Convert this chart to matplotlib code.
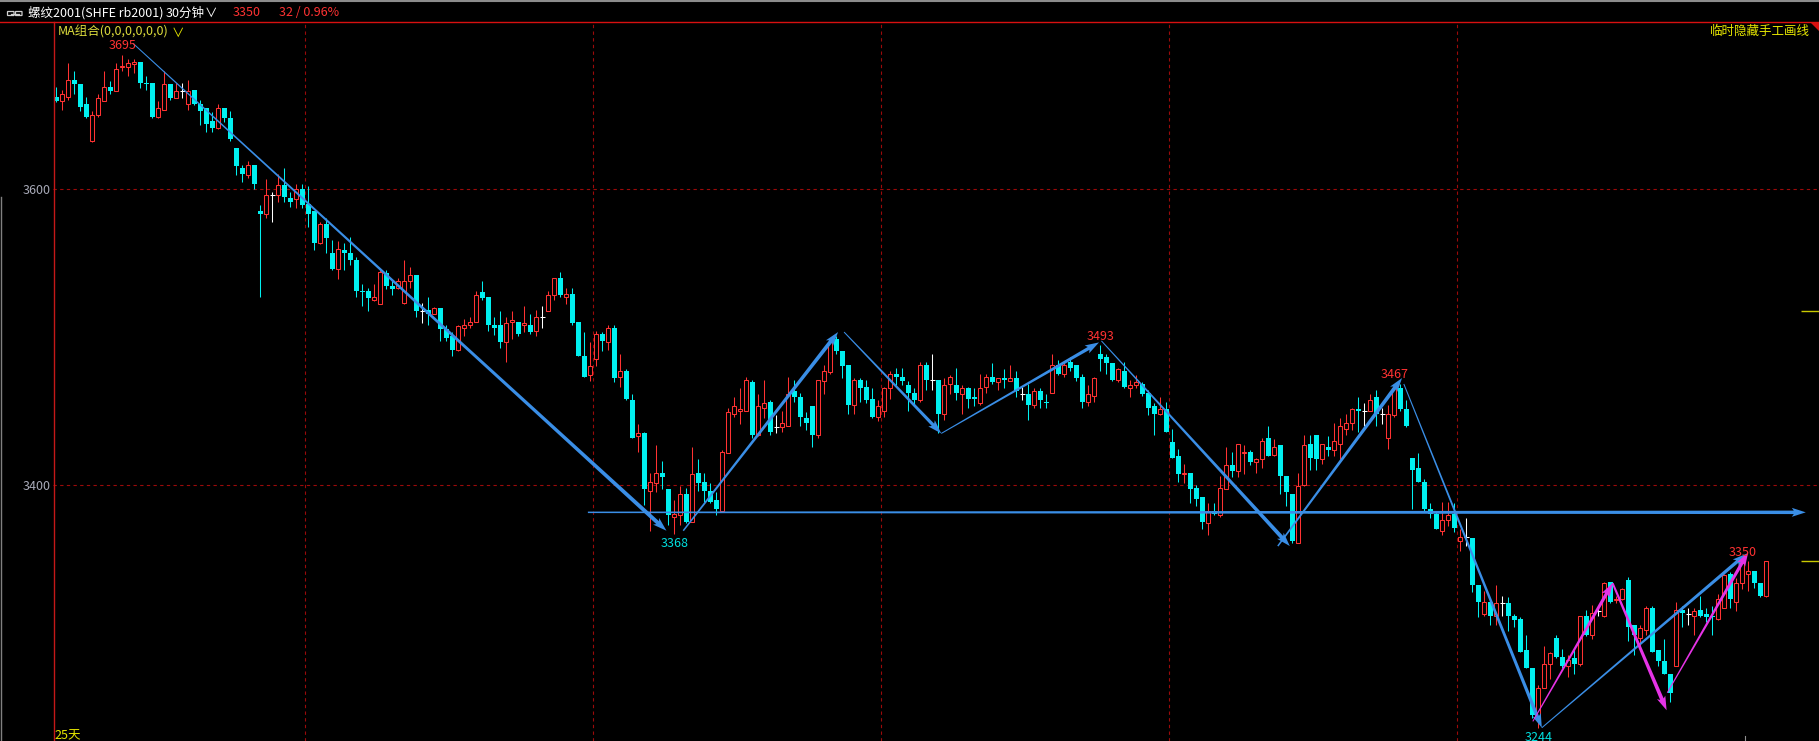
import numpy as np
import matplotlib
matplotlib.use("Agg")
import matplotlib.pyplot as plt
from matplotlib.patches import Polygon, FancyBboxPatch
from matplotlib.lines import Line2D
from matplotlib.ticker import NullLocator

plt.rcParams['font.family'] = ['Noto Sans CJK SC', 'DejaVu Sans']

# rb2001 30分钟 K线
opens = [3665,3662,3665,3677,3674,3660,3634,3652,3662,3672,
         3669,3686,3686,3688,3690,3675,3675,3651,3656,3674,
         3664,3669,3660,3670,3660,3657,3648,3643,3657,3650,
         3629,3615,3610,3617,3585,3583,3596,3596,3603,3594,
         3593,3600,3590,3585,3563,3576,3556,3545,3558,3556,
         3551,3530,3530,3524,3521,3542,3533,3532,3522,3537,
         3541,3516,3517,3514,3518,3504,3499,3490,3505,3507,
         3509,3529,3526,3507,3507,3495,3509,3509,3507,3507,
         3503,3512,3516,3527,3539,3526,3528,3509,3486,3473,
         3484,3501,3495,3505,3472,3476,3456,3432,3434,3396,
         3401,3408,3397,3379,3380,3394,3376,3408,3402,3396,
         3390,3383,3421,3447,3449,3449,3468,3433,3451,3455,
         3438,3438,3439,3462,3458,3444,3452,3433,3469,3475,
         3497,3489,3480,3453,3470,3465,3457,3445,3449,3464,
         3474,3472,3466,3461,3456,3480,3470,3470,3447,3467,
         3466,3460,3464,3458,3454,3465,3472,3468,3471,3469,
         3471,3460,3460,3453,3462,3455,3461,3480,3474,3482,
         3480,3472,3455,3459,3487,3485,3481,3470,3476,3464,
         3466,3467,3461,3452,3447,3450,3428,3419,3407,3408,
         3398,3392,3375,3383,3380,3397,3413,3409,3421,3422,
         3415,3417,3431,3420,3426,3406,3394,3362,3400,3427,
         3433,3417,3425,3423,3427,3437,3441,3450,3449,3449,
         3458,3447,3431,3446,3464,3450,3418,3411,3402,3384,
         3381,3370,3377,3381,3363,3366,3365,3335,3316,3324,
         3315,3323,3323,3315,3313,3293,3282,3251,3269,3284,
         3301,3289,3283,3288,3284,3315,3303,3318,3315,3337,
         3325,3326,3338,3309,3301,3306,3320,3293,3286,3278,
         3283,3319,3316,3315,3319,3316,3315,3313,3320,3342,
         3324,3336,3342,3344,3336,3328]
highs = [3672,3670,3689,3683,3674,3665,3655,3667,3683,3676,
         3689,3695,3692,3692,3690,3680,3675,3662,3683,3674,
         3675,3675,3677,3670,3663,3657,3654,3660,3657,3655,
         3629,3617,3620,3617,3589,3607,3598,3611,3615,3598,
         3604,3604,3602,3585,3577,3580,3565,3564,3563,3567,
         3553,3535,3532,3535,3544,3544,3537,3539,3551,3546,
         3541,3522,3526,3519,3518,3507,3502,3507,3511,3512,
         3530,3537,3526,3512,3516,3512,3516,3509,3520,3514,
         3517,3520,3530,3539,3543,3532,3532,3509,3502,3495,
         3503,3502,3507,3507,3487,3477,3460,3440,3435,3408,
         3426,3416,3397,3390,3399,3398,3425,3417,3408,3401,
         3395,3423,3451,3458,3464,3472,3470,3460,3470,3456,
         3446,3449,3472,3470,3461,3448,3452,3470,3480,3498,
         3499,3489,3480,3471,3471,3470,3464,3456,3465,3476,
         3478,3478,3469,3464,3482,3482,3487,3470,3471,3473,
         3478,3466,3465,3464,3474,3474,3481,3471,3477,3480,
         3476,3465,3467,3464,3464,3460,3487,3483,3482,3485,
         3480,3474,3466,3472,3493,3487,3481,3478,3482,3470,
         3473,3468,3463,3454,3458,3455,3437,3424,3414,3408,
         3400,3392,3388,3388,3406,3425,3422,3427,3426,3423,
         3418,3431,3439,3430,3426,3406,3394,3408,3433,3433,
         3433,3427,3432,3441,3444,3447,3451,3458,3454,3460,
         3463,3451,3453,3467,3467,3456,3418,3421,3404,3388,
         3382,3389,3389,3388,3371,3378,3365,3335,3331,3326,
         3335,3328,3327,3316,3314,3303,3282,3271,3296,3292,
         3303,3294,3290,3293,3315,3319,3322,3320,3337,3337,
         3328,3333,3340,3309,3309,3321,3321,3293,3300,3278,
         3324,3321,3320,3320,3328,3320,3321,3329,3342,3343,
         3339,3350,3350,3344,3336,3350]
lows = [3661,3656,3663,3667,3655,3650,3633,3651,3662,3667,
        3669,3683,3680,3682,3671,3670,3650,3650,3656,3663,
        3664,3664,3656,3659,3645,3640,3640,3642,3647,3634,
        3610,3605,3608,3600,3526,3580,3577,3591,3591,3588,
        3587,3587,3574,3558,3562,3556,3544,3538,3544,3548,
        3526,3520,3516,3523,3521,3531,3527,3531,3521,3532,
        3512,3508,3507,3514,3496,3496,3486,3489,3499,3505,
        3509,3524,3503,3500,3491,3482,3497,3499,3502,3501,
        3499,3505,3516,3524,3526,3521,3507,3486,3472,3469,
        3479,3489,3490,3468,3465,3456,3431,3422,3387,3370,
        3395,3397,3374,3368,3374,3375,3376,3396,3389,3388,
        3380,3383,3421,3445,3440,3449,3431,3432,3444,3433,
        3434,3435,3439,3455,3439,3436,3425,3431,3460,3474,
        3487,3471,3447,3447,3455,3454,3444,3442,3445,3457,
        3466,3466,3449,3452,3455,3463,3463,3434,3443,3460,
        3456,3447,3451,3452,3453,3461,3467,3463,3464,3469,
        3458,3456,3443,3451,3451,3451,3461,3473,3472,3476,
        3469,3451,3452,3455,3476,3474,3469,3468,3464,3458,
        3464,3459,3446,3433,3446,3435,3418,3402,3401,3388,
        3386,3371,3367,3380,3379,3397,3405,3405,3407,3413,
        3408,3411,3419,3419,3394,3386,3362,3362,3399,3410,
        3410,3414,3419,3419,3417,3433,3436,3435,3439,3449,
        3439,3440,3424,3445,3449,3438,3384,3402,3382,3378,
        3371,3367,3373,3369,3357,3360,3330,3314,3315,3309,
        3309,3315,3305,3308,3292,3282,3250,3244,3269,3275,
        3288,3282,3276,3278,3283,3302,3300,3315,3314,3323,
        3323,3325,3299,3290,3296,3303,3292,3283,3278,3260,
        3283,3308,3309,3303,3314,3311,3303,3312,3320,3320,
        3318,3332,3331,3333,3327,3327]
closes = [3662,3667,3677,3674,3658,3651,3652,3664,3672,3669,
          3685,3687,3689,3690,3675,3674,3651,3657,3674,3664,
          3669,3669,3669,3660,3655,3646,3643,3657,3650,3635,
          3616,3611,3617,3604,3583,3596,3596,3603,3595,3591,
          3600,3589,3583,3563,3576,3566,3545,3559,3556,3551,
          3530,3529,3525,3526,3543,3533,3531,3537,3537,3541,
          3516,3516,3514,3518,3504,3498,3490,3506,3507,3509,
          3527,3525,3507,3505,3495,3508,3510,3501,3508,3502,
          3512,3512,3527,3539,3527,3528,3508,3486,3472,3479,
          3501,3496,3505,3471,3476,3457,3431,3434,3397,3402,
          3408,3405,3380,3381,3394,3376,3407,3401,3396,3389,
          3384,3422,3448,3452,3450,3470,3433,3452,3454,3435,
          3438,3441,3460,3458,3445,3441,3433,3470,3476,3495,
          3489,3479,3453,3470,3464,3456,3445,3452,3464,3474,
          3472,3469,3461,3456,3480,3470,3470,3447,3466,3472,
          3461,3464,3457,3457,3464,3472,3468,3471,3470,3471,
          3462,3460,3453,3462,3456,3454,3480,3474,3480,3478,
          3471,3455,3460,3471,3484,3481,3470,3477,3465,3466,
          3468,3460,3451,3447,3450,3435,3418,3407,3408,3397,
          3391,3376,3383,3381,3398,3413,3409,3427,3422,3415,
          3417,3429,3419,3425,3406,3395,3363,3399,3426,3418,
          3417,3427,3423,3429,3439,3441,3450,3449,3449,3456,
          3447,3447,3447,3464,3450,3439,3410,3402,3384,3381,
          3371,3377,3380,3372,3366,3366,3335,3324,3324,3315,
          3323,3323,3315,3312,3292,3282,3252,3269,3284,3291,
          3289,3283,3287,3284,3315,3303,3317,3318,3336,3324,
          3326,3332,3308,3303,3307,3320,3292,3286,3278,3266,
          3319,3317,3316,3318,3315,3314,3314,3326,3341,3326,
          3336,3349,3344,3336,3328,3350]

day_breaks = [42, 90, 138, 186, 234]   # first bar of each block, dashed separators
last_break = 282                       # only a small tick at the bottom
price_ticks = [3400, 3600]
right_marks = [3516, 3350]

# labelled extremes: (bar, price, kind)
extremes = [(11, 3695, 'hi'), (103, 3368, 'lo'), (174, 3493, 'hi'),
            (223, 3467, 'hi'), (281, 3350, 'hi'), (247, 3244, 'lo')]

# hand drawn arrows: (bar0, price0, bar1, price1)
blue_lines = [(12.8, 3703, 101.7, 3370),
              (104.5, 3370, 130.3, 3502),
              (131.3, 3502, 147.5, 3434),
              (147.5, 3434, 173.8, 3495),
              (174.2, 3496, 205.6, 3360),
              (203.6, 3360, 224.3, 3471),
              (224.6, 3467, 247.6, 3244),
              (247.6, 3244, 281.7, 3355),
              (88.6, 3382, 291.6, 3382)]
blue_widths = [(1, 4), (1.5, 4), (1, 3.5), (1, 3.5), (1, 4), (1.5, 4), (1, 3.5), (1, 3.5), (1.5, 3.5)]
pink_lines = [(246.1, 3248, 259.4, 3336),
              (259.4, 3336, 268.4, 3255),
              (268.5, 3266, 282.0, 3356)]
pink_widths = [(1, 3.5), (2, 4), (1, 3.5)]

assert len(opens) == len(highs) == len(lows) == len(closes)

RED = '#ff3232'
CYAN = '#00f0f0'
BLUE = '#3a8ee6'
PINK = '#e633e6'
GRID = '#9b0a0a'
YEL = '#e6e600'

W, H = 1819, 741
fig = plt.figure(figsize=(W / 100, H / 100), dpi=100, facecolor='black')
ax = fig.add_axes([53 / W, 0, 1 - 53 / W, 1 - 22 / H], facecolor='black')
ax.set_yscale('log')
ax.set_xlim(-0.55, 293.8)
ax.set_ylim(3235.7, 3718.4)
for s in ax.spines.values():
    s.set_visible(False)
ax.set_xticks([])
ax.yaxis.set_minor_locator(NullLocator())
ax.set_yticks(price_ticks)
ax.set_yticklabels([str(p) for p in price_ticks])
ax.tick_params(axis='y', length=0, pad=2, labelsize=9, labelcolor='#a8aab8')

# grid
for p in price_ticks:
    ax.axhline(p, color=GRID, lw=0.8, ls=(0, (3, 3)), zorder=1)
for b in day_breaks:
    ax.axvline(b - 0.5, color=GRID, lw=0.8, ls=(0, (3, 3)), zorder=1)
ax.plot([last_break - 0.5] * 2, [3235.7, 3239], color='#909090', lw=0.8)

# candles
o = np.array(opens, float)
h = np.array(highs, float)
l = np.array(lows, float)
c = np.array(closes, float)
x = np.arange(len(o))
up = c > o
dn = c < o
fl = c == o
ax.vlines(x[up], l[up], h[up], color=RED, lw=0.75, zorder=2)
ax.vlines(x[dn], l[dn], h[dn], color=CYAN, lw=0.75, zorder=2)
ax.vlines(x[fl], l[fl], h[fl], color='white', lw=0.75, zorder=2)
ax.bar(x[up], c[up] - o[up], bottom=o[up], width=0.7, facecolor='black',
       edgecolor=RED, linewidth=0.75, zorder=3)
ax.bar(x[dn], o[dn] - c[dn], bottom=c[dn], width=0.8, color=CYAN, linewidth=0, zorder=3)
ax.hlines(c[fl], x[fl] - 0.4, x[fl] + 0.4, color='white', lw=0.75, zorder=3)

# extreme labels
for i, p, kind in extremes:
    if kind == 'hi':
        ax.annotate(str(p), (i, p), xytext=(0, 2), textcoords='offset points',
                    ha='center', va='bottom', color=RED, fontsize=9, zorder=6)
    else:
        ax.annotate(str(p), (i, p), xytext=(0, -2), textcoords='offset points',
                    ha='center', va='top', color='#00e0e0', fontsize=9, zorder=6)


def taper_arrow(i0, p0, i1, p1, w0, w1, color, head_len=12, head_w=9):
    a = ax.transData.transform((i0, p0))
    b = ax.transData.transform((i1, p1))
    d = b - a
    length = np.hypot(d[0], d[1])
    u = d / length
    n = np.array([-u[1], u[0]])
    base = b - u * head_len
    wb = w0 + (w1 - w0) * (length - head_len) / length
    pts = np.array([a + n * w0 / 2, base + n * wb / 2, base - u * 2 + n * head_w / 2, b,
                    base - u * 2 - n * head_w / 2, base - n * wb / 2, a - n * w0 / 2])
    pts = ax.transData.inverted().transform(pts)
    ax.add_patch(Polygon(pts, closed=True, facecolor=color, edgecolor='none', zorder=5))


for (i0, p0, i1, p1), (w0, w1) in zip(blue_lines, blue_widths):
    taper_arrow(i0, p0, i1, p1, w0, w1, BLUE)
for (i0, p0, i1, p1), (w0, w1) in zip(pink_lines, pink_widths):
    taper_arrow(i0, p0, i1, p1, w0, w1, PINK)

ax.hlines(right_marks, 290.8, 293.8, color='#c8c800', lw=1, zorder=4)

# frame lines
fig.add_artist(Line2D([0, 1], [1 - 1 / H] * 2, color='#8c8c8c', lw=1.5))
fig.add_artist(Line2D([0, 1], [1 - 22 / H] * 2, color='#d81010', lw=1))
fig.add_artist(Line2D([53.5 / W] * 2, [0, 1 - 22 / H], color='#c41818', lw=1))
fig.add_artist(Line2D([0.5 / W] * 2, [0, 1 - 197 / H], color='#808080', lw=1))
fig.add_artist(Polygon([[1810 / W, 1 - 22 / H], [1, 1 - 22 / H], [1, 1 - 31 / H]],
                       closed=True, facecolor='#d81010', edgecolor='none', transform=fig.transFigure))

# link icon in the header
for x0 in (7.5, 15.5):
    fig.add_artist(FancyBboxPatch((x0 / W, 1 - 15.5 / H), 6.5 / W, 4 / H,
                                  boxstyle='round,pad=0', transform=fig.transFigure,
                                  facecolor='none', edgecolor='#d0d0d0', lw=0.9))
fig.add_artist(Line2D([11 / W, 19 / W], [1 - 13.5 / H] * 2, color='#d0d0d0', lw=0.9))


def ftext(px, py, s, color, **kw):
    fig.text(px / W, 1 - py / H, s, color=color, fontsize=9, va='center', **kw)


ftext(28, 13, '螺纹2001(SHFE rb2001)', 'white')
ftext(166, 13, '30分钟', 'white')
ftext(205, 13, '∨', 'white')
ftext(233, 13, '3350', RED)
ftext(279, 13, '32 / 0.96%', RED)
ftext(58, 32, 'MA组合(0,0,0,0,0,0)', '#dcdc3c')
ftext(172, 33, '∨', YEL)
ftext(1810, 31, '临时隐藏手工画线', YEL, ha='right')
ftext(54, 736, '25天', YEL)

fig.savefig('out.png', dpi=100, facecolor='black')
